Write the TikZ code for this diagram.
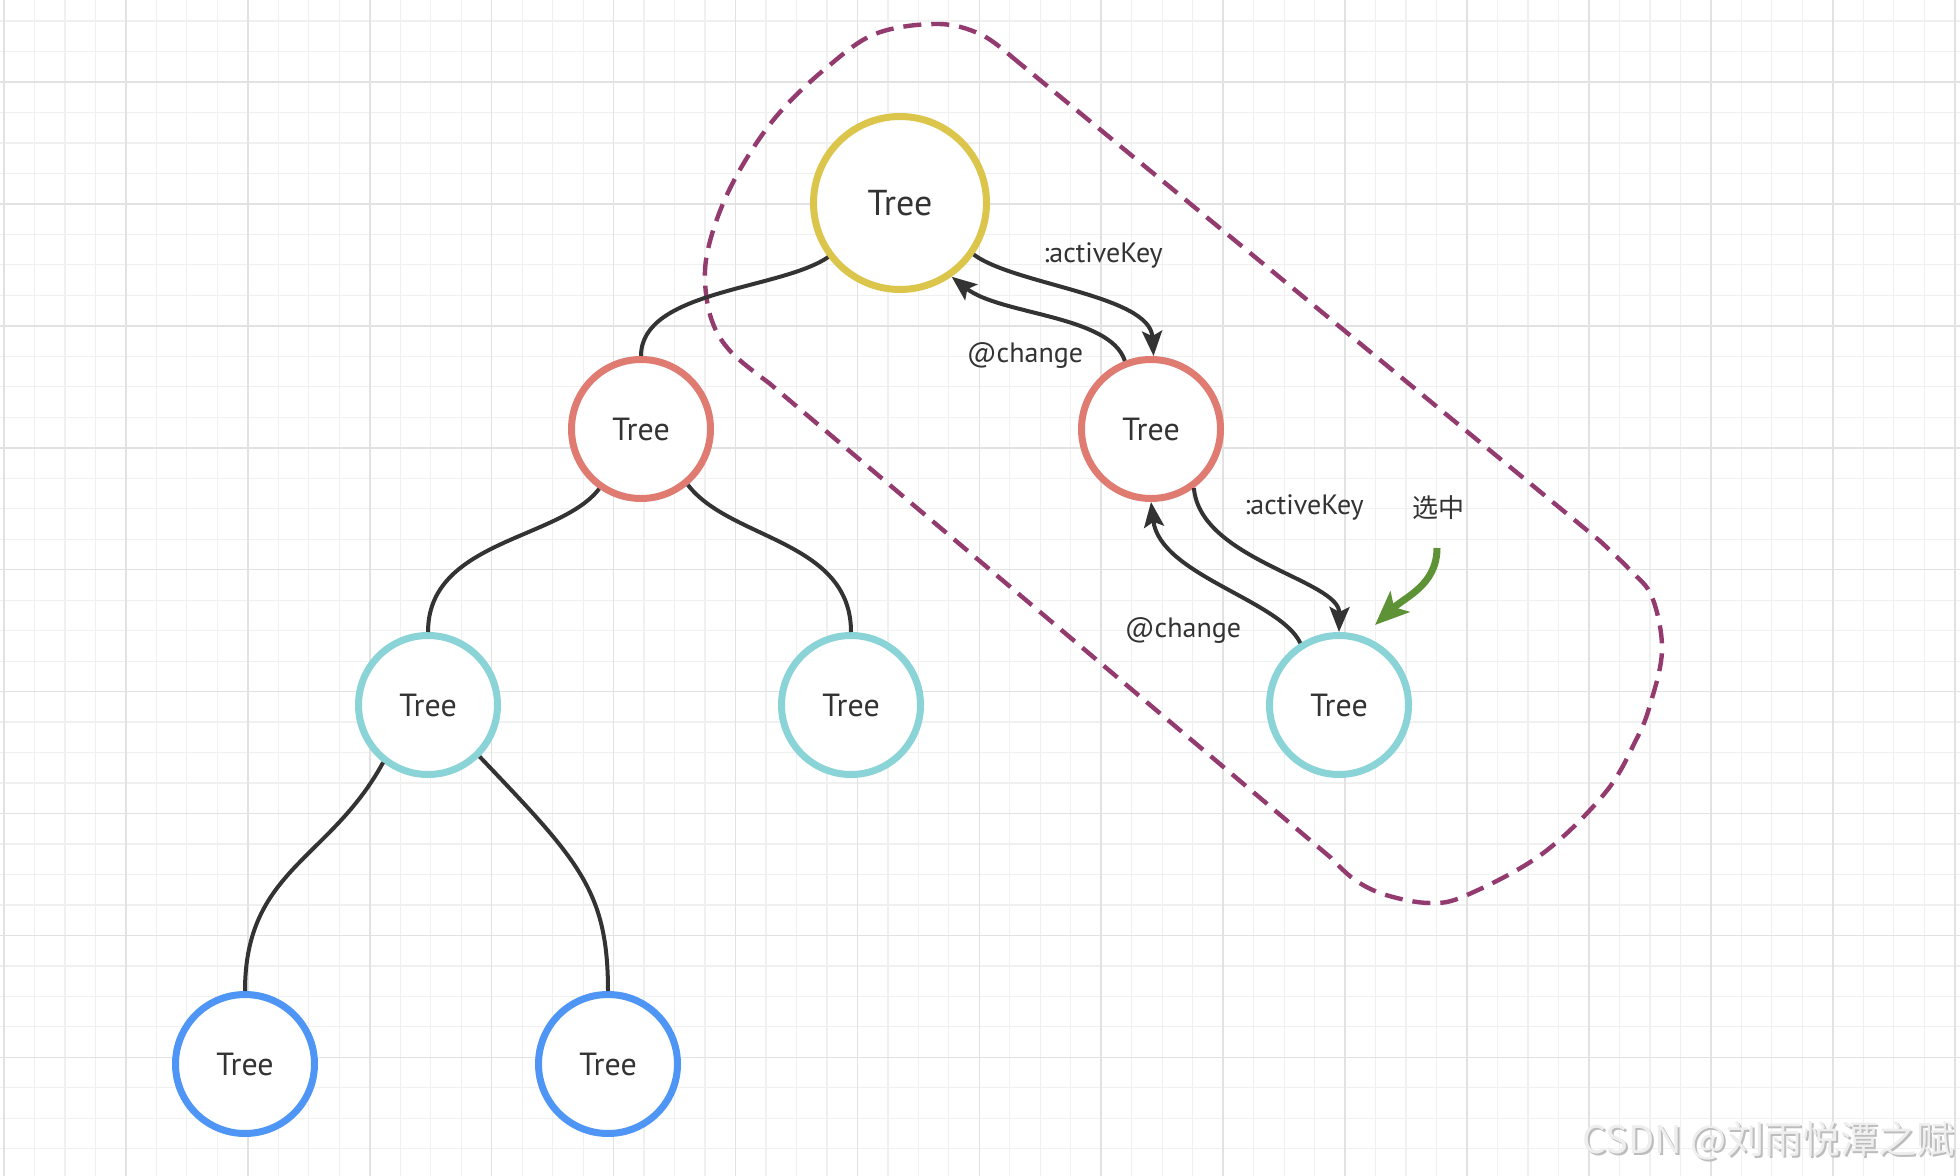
\documentclass[tikz,border=0pt]{standalone}
\usepackage{fontspec}
\setmainfont{PT Sans}
\newfontfamily\cjk{Noto Sans CJK SC}
\usetikzlibrary{arrows.meta}
\definecolor{txt}{HTML}{333333}
\definecolor{lc}{HTML}{333333}
\definecolor{cyel}{HTML}{DCC54B}
\definecolor{cred}{HTML}{E07B72}
\definecolor{ccyan}{HTML}{8AD3D6}
\definecolor{cblue}{HTML}{4F95F5}
\definecolor{cpurp}{HTML}{933B6E}
\definecolor{cgreen}{HTML}{5E9236}
\definecolor{gmin}{HTML}{F0F0F0}
\definecolor{gmaj}{HTML}{E2E2E2}
\definecolor{wmshadow}{HTML}{BDBDBD}
\definecolor{wmfill}{HTML}{EEEEEE}
\begin{document}
\begin{tikzpicture}[x=0.5pt,y=-0.5pt,
  tnode/.style={circle, line width=3.5pt, fill=white, inner sep=0pt, minimum size=69.5pt, font=\fontsize{16}{18}\selectfont, text=txt},
  bignode/.style={tnode, minimum size=86.5pt, font=\fontsize{18}{20}\selectfont},
  edge/.style={line width=2pt, draw=lc},
  arr/.style={edge, -{Stealth[length=12.5pt,width=10pt,inset=2.5pt]}},
  garr/.style={line width=3.5pt, draw=cgreen, -{Stealth[length=17pt,width=14pt,inset=4pt]}},
  lbl/.style={font=\fontsize{14}{16}\selectfont, text=txt, inner sep=0pt, anchor=base},
  gminor/.style={draw=gmin, line width=0.6pt},
  gmajor/.style={draw=gmaj, line width=0.8pt},
  dashline/.style={draw=cpurp, line width=2.2pt, dash pattern=on 9pt off 5pt, line join=round}]
\fill[white] (0,0) rectangle (1960,1176);
\useasboundingbox (0,0) rectangle (1960,1176);
% grid
\foreach \i in {0,...,64} {\draw[gminor] ({4+30.48*\i},0) -- ({4+30.48*\i},1176);}
\foreach \i in {-2,...,35} {\draw[gminor] (0,{82+30.48*\i}) -- (1960,{82+30.48*\i});}
\foreach \i in {0,...,16} {\draw[gmajor] ({4+121.92*\i},0) -- ({4+121.92*\i},1176);}
\foreach \i in {0,...,8} {\draw[gmajor] (0,{82+121.92*\i}) -- (1960,{82+121.92*\i});}
% dashed outline
\draw[dashline] (1012,57) -- (1600,541) -- plot[smooth, tension=0.6] coordinates {(1600,541)(1630,570)(1652,597)(1662,650)(1650,705)(1636,740)(1605,793)(1542,854)(1467,895)(1430,903)(1386,895)(1355,880)(1330,857)} -- (769,383) -- plot[smooth, tension=0.6] coordinates {(769,383)(731,352)(712,321)(705,281)(709,245)(725,199)(750,153)(781,111)(825,69)(875,34)(937,24)(980,34)(1012,57)};
% nodes
\node[bignode, draw=cyel] (root) at (900,203) {Tree};
\node[tnode, draw=cred] (rl) at (641,429) {Tree};
\node[tnode, draw=cred] (rr) at (1151,429) {Tree};
\node[tnode, draw=ccyan] (cl) at (428,705) {Tree};
\node[tnode, draw=ccyan] (cm) at (851,705) {Tree};
\node[tnode, draw=ccyan] (cr) at (1339,705) {Tree};
\node[tnode, draw=cblue] (bl) at (245,1064) {Tree};
\node[tnode, draw=cblue] (br) at (608,1064) {Tree};
% edges
\draw[edge] (root.217) .. controls (780,290) and (641,290) .. (rl.north);
\draw[edge] (rl.235) .. controls (560,540) and (428,540) .. (cl.north);
\draw[edge] (rl.310) .. controls (730,540) and (851,540) .. (cm.north);
\draw[edge] (cl.232) .. controls (330,860) and (245,870) .. (bl.north);
\draw[edge] (cl.315) .. controls (578,860) and (608,890) .. (br.north);
\draw[arr] (root.325) .. controls (1015,285) and (1150,295) .. (rr.88);
\draw[arr] (rr.111) .. controls (1110,315) and (1000,315) .. (root.305);
\draw[arr] (rr.306) .. controls (1200,560) and (1340,580) .. (cr.north);
\draw[arr] (cr.122) .. controls (1280,600) and (1160,575) .. (rr.south);
% green pointer
\coordinate (g1) at (1437,548);
\coordinate (g2) at (1375,625);
\draw[garr] (g1) .. controls (1437,585) and (1405,597) .. (g2);
% labels
\node[lbl] (l1) at (1103,263) {:activeKey};
\node[lbl] (l2) at (1025,363) {@change};
\node[lbl] (l3) at (1304,515) {:activeKey};
\node[lbl] (l4) at (1183,637) {@change};
\node[font=\cjk\fontsize{13}{15}\selectfont, text=txt, inner sep=0pt] (sel) at (1438,508) {选中};
% watermark
\node[anchor=base east, font=\cjk\fontsize{19}{21}\selectfont, text=wmshadow, inner sep=0pt] (wm1) at (1957,1155) {CSDN @刘雨悦潭之赋};
\node[anchor=base east, font=\cjk\fontsize{19}{21}\selectfont, text=wmfill, inner sep=0pt] (wm2) at (1955,1153) {CSDN @刘雨悦潭之赋};
\end{tikzpicture}
\end{document}
